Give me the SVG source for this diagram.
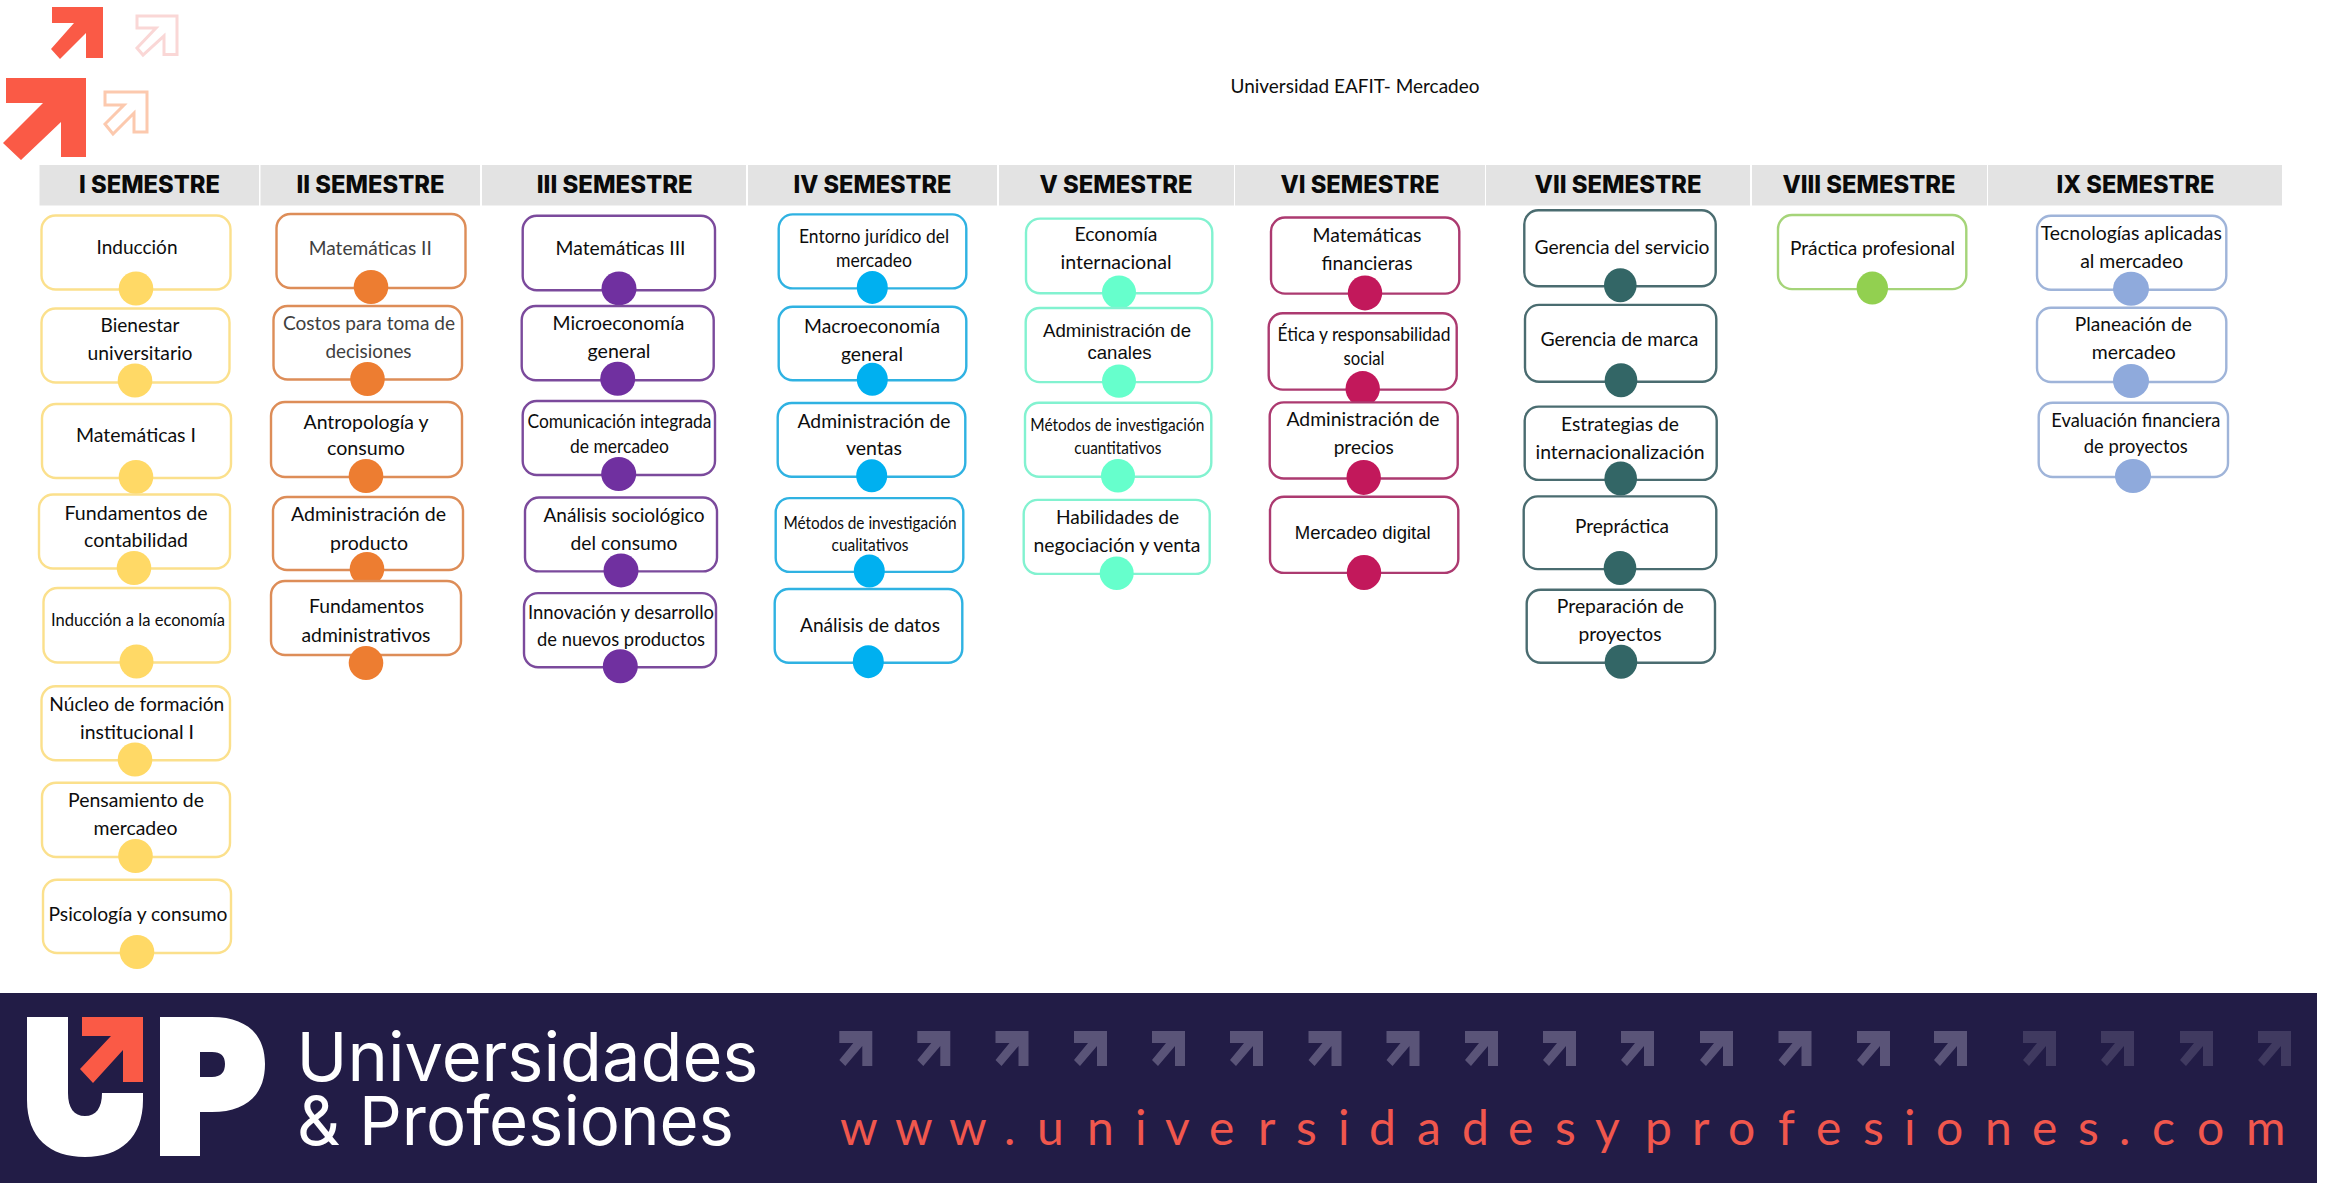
<svg xmlns="http://www.w3.org/2000/svg" width="2341" height="1201" viewBox="0 0 2341 1201">
<defs>
<style>
text{font-family:"Lato","Liberation Sans",sans-serif;fill:#0d0d0d;text-anchor:middle}
.s20{font-size:20px}.s18{font-size:18.5px}.s16{font-size:16.5px}
.ar{font-family:"Liberation Sans",Arial,sans-serif}
.soft{fill:#404040}
.hd rect{fill:#e3e3e3}
.hd text{font-family:"Inter","Liberation Sans",sans-serif;font-weight:800;font-size:24px;fill:#0a0a0a}
.n rect{fill:#fff;stroke-width:2.4}
.y rect{stroke:#fbe08c}.y ellipse{fill:#ffd966}
.o rect{stroke:#dd8d58}.o ellipse{fill:#ed7d31}
.p rect{stroke:#7b4a9c}.p ellipse{fill:#7030a0}
.b rect{stroke:#2fb2e2}.b ellipse{fill:#00b0f0}
.m rect{stroke:#82f2d0}.m ellipse{fill:#66ffcc}
.c rect{stroke:#ac3a70}.c ellipse{fill:#c2185b}
.t rect{stroke:#4a6c70}.t ellipse{fill:#336666}
.g rect{stroke:#a5d479}.g ellipse{fill:#92d050}
.w rect{stroke:#9fb4d9}.w ellipse{fill:#8faadc}
.brand{font-family:"Inter","Liberation Sans",sans-serif;font-weight:400;font-size:68px;fill:#fff;text-anchor:start}
.url{font-family:"Lato","Liberation Sans",sans-serif;font-size:48px;fill:#f0574d;text-anchor:start}
</style>
<polygon id="ba" points="0,0 33,0 33,35 23,35 23,15 6,35 0,29 14,12 0,12"/>
</defs>

<g id="top-arrows">
<polygon fill="#fa5a46" points="52,7 103,7 103,58 86,58 86,33 60,59 51,49 74,23 52,23"/>
<polygon fill="#fff" stroke="#fad7d6" stroke-width="3" points="137,16 177,16 177,54.5 164,54.5 164,36 143,55 137,48 156,28 137,28"/>
<polygon fill="#fa5a46" points="6,78 86,78 86,157 61,157 61,122 21,160 3,143 43,103 6,103"/>
<polygon fill="#fff" stroke="#fcc9ae" stroke-width="3" points="105,92 147,92 147,132 134,132 134,113 113,134 105,124 124,105 105,105"/>
</g>

<text id="title" class="s20" x="1355" y="93.3" textLength="249" lengthAdjust="spacingAndGlyphs">Universidad EAFIT- Mercadeo</text>

<g id="headers" class="hd">
<rect x="39.5" y="165" width="219.5" height="40.5"/><text x="149.5" y="193" textLength="141" lengthAdjust="spacingAndGlyphs">I SEMESTRE</text>
<rect x="260.5" y="165" width="219.5" height="40.5"/><text x="370.5" y="193" textLength="148" lengthAdjust="spacingAndGlyphs">II SEMESTRE</text>
<rect x="482" y="165" width="264" height="40.5"/><text x="614.7" y="193" textLength="156" lengthAdjust="spacingAndGlyphs">III SEMESTRE</text>
<rect x="748" y="165" width="249" height="40.5"/><text x="872.5" y="193" textLength="158" lengthAdjust="spacingAndGlyphs">IV SEMESTRE</text>
<rect x="999" y="165" width="235" height="40.5"/><text x="1116" y="193" textLength="153" lengthAdjust="spacingAndGlyphs">V SEMESTRE</text>
<rect x="1235" y="165" width="250" height="40.5"/><text x="1360" y="193" textLength="159" lengthAdjust="spacingAndGlyphs">VI SEMESTRE</text>
<rect x="1486" y="165" width="264" height="40.5"/><text x="1618" y="193" textLength="167" lengthAdjust="spacingAndGlyphs">VII SEMESTRE</text>
<rect x="1752" y="165" width="235" height="40.5"/><text x="1869" y="193" textLength="173" lengthAdjust="spacingAndGlyphs">VIII SEMESTRE</text>
<rect x="1988" y="165" width="294" height="40.5"/><text x="2135.5" y="193" textLength="158" lengthAdjust="spacingAndGlyphs">IX SEMESTRE</text>
</g>

<g id="connectors"></g>

<g id="nodes">
<g id="n1-1" class="n y"><rect x="41.5" y="215.5" width="189" height="74" rx="14"/><ellipse cx="136" cy="288.5" rx="17.3" ry="17"/><text class="s20" x="137" y="254" textLength="81" lengthAdjust="spacingAndGlyphs">Inducción</text></g>
<g id="n1-2" class="n y"><rect x="41.5" y="308.5" width="188" height="74" rx="14"/><ellipse cx="135" cy="380.5" rx="17.3" ry="17"/><text class="s20" x="140" y="332" textLength="79" lengthAdjust="spacingAndGlyphs">Bienestar</text><text class="s20" x="140" y="360" textLength="105" lengthAdjust="spacingAndGlyphs">universitario</text></g>
<g id="n1-3" class="n y"><rect x="42" y="404" width="189" height="74" rx="14"/><ellipse cx="136" cy="477" rx="17.3" ry="17"/><text class="s20" x="136" y="442" textLength="120" lengthAdjust="spacingAndGlyphs">Matemáticas I</text></g>
<g id="n1-4" class="n y"><rect x="39" y="494.5" width="191" height="74" rx="14"/><ellipse cx="134" cy="568" rx="17.3" ry="17"/><text class="s20" x="136" y="519.5" textLength="143" lengthAdjust="spacingAndGlyphs">Fundamentos de</text><text class="s20" x="136" y="547" textLength="104" lengthAdjust="spacingAndGlyphs">contabilidad</text></g>
<g id="n1-5" class="n y"><rect x="43.5" y="588" width="186.5" height="74.5" rx="14"/><ellipse cx="136.5" cy="661.5" rx="17" ry="17"/><text class="s16" x="138" y="626" textLength="174" lengthAdjust="spacingAndGlyphs">Inducción a la economía</text></g>
<g id="n1-6" class="n y"><rect x="41.5" y="686.3" width="188.5" height="74" rx="14"/><ellipse cx="135" cy="759.5" rx="17.3" ry="17"/><text class="s20" x="136.8" y="710.7" textLength="175" lengthAdjust="spacingAndGlyphs">Núcleo de formación</text><text class="s20" x="137" y="738.7" textLength="114" lengthAdjust="spacingAndGlyphs">institucional I</text></g>
<g id="n1-7" class="n y"><rect x="42" y="782.7" width="188" height="74.3" rx="14"/><ellipse cx="135.5" cy="856" rx="17.3" ry="17"/><text class="s20" x="136" y="806.7" textLength="136" lengthAdjust="spacingAndGlyphs">Pensamiento de</text><text class="s20" x="135.5" y="835" textLength="84" lengthAdjust="spacingAndGlyphs">mercadeo</text></g>
<g id="n1-8" class="n y"><rect x="43" y="879.7" width="188" height="73.3" rx="14"/><ellipse cx="137" cy="952" rx="17.3" ry="17"/><text class="s20" x="138" y="920.7" textLength="179" lengthAdjust="spacingAndGlyphs">Psicología y consumo</text></g>

<g id="n2-1" class="n o"><rect x="276.5" y="214" width="189" height="74" rx="14"/><ellipse cx="371" cy="287" rx="17.3" ry="17"/><text class="s20 soft" x="370.3" y="255" textLength="123" lengthAdjust="spacingAndGlyphs">Matemáticas II</text></g>
<g id="n2-2" class="n o"><rect x="273.5" y="306" width="188.5" height="73.5" rx="14"/><ellipse cx="367.5" cy="379" rx="17.3" ry="17"/><text class="s20 soft" x="369" y="330" textLength="172" lengthAdjust="spacingAndGlyphs">Costos para toma de</text><text class="s20 soft" x="368.5" y="358" textLength="86" lengthAdjust="spacingAndGlyphs">decisiones</text></g>
<g id="n2-3" class="n o"><rect x="271" y="402" width="191" height="75" rx="14"/><ellipse cx="366" cy="476" rx="17.3" ry="17"/><text class="s20" x="366" y="428.5" textLength="125" lengthAdjust="spacingAndGlyphs">Antropología y</text><text class="s20" x="366" y="455" textLength="78" lengthAdjust="spacingAndGlyphs">consumo</text></g>
<g id="n2-4" class="n o"><rect x="273" y="497" width="190" height="73" rx="14"/><ellipse cx="367" cy="569" rx="17.3" ry="17"/><text class="s20" x="368.5" y="521" textLength="155" lengthAdjust="spacingAndGlyphs">Administración de</text><text class="s20" x="369" y="549.5" textLength="78" lengthAdjust="spacingAndGlyphs">producto</text></g>
<g id="n2-5" class="n o"><rect x="271" y="581" width="190" height="74" rx="14"/><ellipse cx="366" cy="663" rx="17.3" ry="17"/><text class="s20" x="366.5" y="613" textLength="115" lengthAdjust="spacingAndGlyphs">Fundamentos</text><text class="s20" x="366" y="641.7" textLength="129" lengthAdjust="spacingAndGlyphs">administrativos</text></g>

<g id="n3-1" class="n p"><rect x="522.7" y="215.8" width="192.3" height="74.4" rx="14"/><ellipse cx="619" cy="288.4" rx="17.5" ry="17"/><text class="s20" x="620.5" y="254.7" textLength="130" lengthAdjust="spacingAndGlyphs">Matemáticas III</text></g>
<g id="n3-2" class="n p"><rect x="521.7" y="306" width="192" height="74.3" rx="14"/><ellipse cx="617.7" cy="378.7" rx="17.5" ry="17"/><text class="s20" x="618.5" y="329.7" textLength="132" lengthAdjust="spacingAndGlyphs">Microeconomía</text><text class="s20" x="619" y="358" textLength="63" lengthAdjust="spacingAndGlyphs">general</text></g>
<g id="n3-3" class="n p"><rect x="522.7" y="401" width="192.3" height="74" rx="14"/><ellipse cx="618.7" cy="474" rx="17.5" ry="17"/><text class="s18" x="619.5" y="427.9" textLength="184" lengthAdjust="spacingAndGlyphs">Comunicación integrada</text><text class="s18" x="619.5" y="453.4" textLength="99" lengthAdjust="spacingAndGlyphs">de mercadeo</text></g>
<g id="n3-4" class="n p"><rect x="525" y="497.5" width="192" height="73.9" rx="14"/><ellipse cx="621" cy="570.4" rx="17.5" ry="17"/><text class="s20" x="624" y="522.3" textLength="161" lengthAdjust="spacingAndGlyphs">Análisis sociológico</text><text class="s20" x="624" y="550.2" textLength="107" lengthAdjust="spacingAndGlyphs">del consumo</text></g>
<g id="n3-5" class="n p"><rect x="524" y="593.1" width="192" height="74.1" rx="14"/><ellipse cx="620.3" cy="666.2" rx="17.5" ry="17"/><text class="s20" x="621" y="619" textLength="186" lengthAdjust="spacingAndGlyphs">Innovación y desarrollo</text><text class="s20" x="621" y="646.2" textLength="168" lengthAdjust="spacingAndGlyphs">de nuevos productos</text></g>

<g id="n4-1" class="n b"><rect x="778.7" y="214.4" width="187.6" height="74" rx="14"/><ellipse cx="872.3" cy="287.4" rx="15.5" ry="16.5"/><text class="s18" x="874" y="242.6" textLength="150" lengthAdjust="spacingAndGlyphs">Entorno jurídico del</text><text class="s18" x="874" y="267.1" textLength="76" lengthAdjust="spacingAndGlyphs">mercadeo</text></g>
<g id="n4-2" class="n b"><rect x="778.7" y="306.7" width="187.6" height="73.6" rx="14"/><ellipse cx="872.3" cy="379.3" rx="15.5" ry="16.5"/><text class="s20" x="872" y="332.8" textLength="136" lengthAdjust="spacingAndGlyphs">Macroeconomía</text><text class="s20" x="872" y="361.1" textLength="62" lengthAdjust="spacingAndGlyphs">general</text></g>
<g id="n4-3" class="n b"><rect x="777.7" y="403" width="187.6" height="73.8" rx="14"/><ellipse cx="871.7" cy="475.8" rx="15.5" ry="16.5"/><text class="s20" x="874" y="427.9" textLength="153" lengthAdjust="spacingAndGlyphs">Administración de</text><text class="s20" x="874" y="455.4" textLength="56" lengthAdjust="spacingAndGlyphs">ventas</text></g>
<g id="n4-4" class="n b"><rect x="775.7" y="498.1" width="187.6" height="73.8" rx="14"/><ellipse cx="869.3" cy="571.1" rx="15.5" ry="16.5"/><text class="s16" x="870" y="529.1" textLength="173" lengthAdjust="spacingAndGlyphs">Métodos de investigación</text><text class="s16" x="870" y="550.8" textLength="77" lengthAdjust="spacingAndGlyphs">cualitativos</text></g>
<g id="n4-5" class="n b"><rect x="774.7" y="589" width="187.6" height="73.8" rx="14"/><ellipse cx="868.3" cy="661.7" rx="15.5" ry="16.5"/><text class="s20" x="870" y="631.8" textLength="140" lengthAdjust="spacingAndGlyphs">Análisis de datos</text></g>

<g id="n5-1" class="n m"><rect x="1026" y="218.6" width="186.3" height="74.7" rx="14"/><ellipse cx="1119" cy="292.2" rx="17" ry="16.7"/><text class="s20" x="1116" y="240.9" textLength="83" lengthAdjust="spacingAndGlyphs">Economía</text><text class="s20" x="1116" y="268.8" textLength="111" lengthAdjust="spacingAndGlyphs">internacional</text></g>
<g id="n5-2" class="n m"><rect x="1025.7" y="308" width="186.3" height="74.1" rx="14"/><ellipse cx="1119" cy="381.1" rx="17" ry="16.7"/><text class="s18 ar" x="1117" y="337.4" textLength="148" lengthAdjust="spacingAndGlyphs">Administración de</text><text class="s18 ar" x="1119.5" y="359" textLength="64" lengthAdjust="spacingAndGlyphs">canales</text></g>
<g id="n5-3" class="n m"><rect x="1025" y="402.8" width="186.3" height="74" rx="14"/><ellipse cx="1118" cy="475.8" rx="17" ry="16.7"/><text class="s16" x="1117.3" y="431.4" textLength="174" lengthAdjust="spacingAndGlyphs">Métodos de investigación</text><text class="s16" x="1117.8" y="454.4" textLength="87" lengthAdjust="spacingAndGlyphs">cuantitativos</text></g>
<g id="n5-4" class="n m"><rect x="1023.7" y="499.9" width="186" height="74" rx="14"/><ellipse cx="1116.7" cy="573.2" rx="17" ry="16.7"/><text class="s20" x="1117.5" y="524.4" textLength="123" lengthAdjust="spacingAndGlyphs">Habilidades de</text><text class="s20" x="1117" y="551.8" textLength="167" lengthAdjust="spacingAndGlyphs">negociación y venta</text></g>

<g id="n6-1" class="n c"><rect x="1271" y="217.5" width="188.3" height="76.1" rx="14"/><ellipse cx="1365" cy="292.9" rx="17.2" ry="17.5"/><text class="s20" x="1367" y="242.3" textLength="109" lengthAdjust="spacingAndGlyphs">Matemáticas</text><text class="s20" x="1367" y="269.8" textLength="91" lengthAdjust="spacingAndGlyphs">financieras</text></g>
<g id="n6-2" class="n c"><rect x="1268.7" y="313.2" width="188" height="76.4" rx="14"/><ellipse cx="1362.7" cy="388.6" rx="17.2" ry="17.5"/><text class="s18" x="1364" y="340.5" textLength="173" lengthAdjust="spacingAndGlyphs">Ética y responsabilidad</text><text class="s18" x="1364" y="365.3" textLength="41" lengthAdjust="spacingAndGlyphs">social</text></g>
<g id="n6-3" class="n c"><rect x="1269.7" y="402.4" width="188" height="76.1" rx="14"/><ellipse cx="1363.7" cy="477.4" rx="17.2" ry="17.5"/><text class="s20" x="1363" y="425.8" textLength="153" lengthAdjust="spacingAndGlyphs">Administración de</text><text class="s20" x="1363.7" y="453.7" textLength="60" lengthAdjust="spacingAndGlyphs">precios</text></g>
<g id="n6-4" class="n c"><rect x="1270" y="496.8" width="188.3" height="76.1" rx="14"/><ellipse cx="1364" cy="572.5" rx="17.2" ry="17.5"/><text class="s18 ar" x="1362.7" y="538.8" textLength="136" lengthAdjust="spacingAndGlyphs">Mercadeo digital</text></g>

<g id="n7-1" class="n t"><rect x="1524.3" y="210.3" width="191.4" height="76" rx="14"/><ellipse cx="1620.3" cy="285.3" rx="16.3" ry="17"/><text class="s20" x="1622" y="253.7" textLength="175" lengthAdjust="spacingAndGlyphs">Gerencia del servicio</text></g>
<g id="n7-2" class="n t"><rect x="1525" y="304.9" width="191.3" height="76.9" rx="14"/><ellipse cx="1621" cy="380.3" rx="16.3" ry="17"/><text class="s20" x="1619.5" y="345.9" textLength="158" lengthAdjust="spacingAndGlyphs">Gerencia de marca</text></g>
<g id="n7-3" class="n t"><rect x="1524.7" y="406.6" width="192" height="73.3" rx="14"/><ellipse cx="1620.7" cy="478.5" rx="16.3" ry="17"/><text class="s20" x="1620" y="431" textLength="118" lengthAdjust="spacingAndGlyphs">Estrategias de</text><text class="s20" x="1620" y="458.5" textLength="169" lengthAdjust="spacingAndGlyphs">internacionalización</text></g>
<g id="n7-4" class="n t"><rect x="1523.7" y="496.4" width="192.6" height="72.7" rx="14"/><ellipse cx="1620" cy="568" rx="16.3" ry="17"/><text class="s20" x="1622" y="532.9" textLength="94" lengthAdjust="spacingAndGlyphs">Prepráctica</text></g>
<g id="n7-5" class="n t"><rect x="1526.7" y="589.7" width="188.3" height="73.1" rx="14"/><ellipse cx="1621" cy="661.7" rx="16.3" ry="17"/><text class="s20" x="1620.3" y="612.8" textLength="127" lengthAdjust="spacingAndGlyphs">Preparación de</text><text class="s20" x="1620" y="640.7" textLength="83" lengthAdjust="spacingAndGlyphs">proyectos</text></g>

<g id="n8-1" class="n g"><rect x="1778" y="215" width="188.3" height="74.1" rx="14"/><ellipse cx="1872.3" cy="288.1" rx="15.7" ry="16.5"/><text class="s20" x="1872.5" y="254.7" textLength="165" lengthAdjust="spacingAndGlyphs">Práctica profesional</text></g>

<g id="n9-1" class="n w"><rect x="2037" y="215.7" width="189.3" height="74" rx="14"/><ellipse cx="2131" cy="288.7" rx="18" ry="17"/><text class="s20" x="2131.3" y="240" textLength="181" lengthAdjust="spacingAndGlyphs">Tecnologías aplicadas</text><text class="s20" x="2131.7" y="267.7" textLength="103" lengthAdjust="spacingAndGlyphs">al mercadeo</text></g>
<g id="n9-2" class="n w"><rect x="2037" y="307.7" width="189.3" height="74.3" rx="14"/><ellipse cx="2131" cy="381" rx="18" ry="17"/><text class="s20" x="2133.3" y="331" textLength="117" lengthAdjust="spacingAndGlyphs">Planeación de</text><text class="s20" x="2133.8" y="359" textLength="84" lengthAdjust="spacingAndGlyphs">mercadeo</text></g>
<g id="n9-3" class="n w"><rect x="2038.7" y="402.7" width="189.3" height="74.3" rx="14"/><ellipse cx="2133" cy="476" rx="18" ry="17"/><text class="s20" x="2135.8" y="426.7" textLength="169" lengthAdjust="spacingAndGlyphs">Evaluación financiera</text><text class="s20" x="2135.8" y="453.3" textLength="104" lengthAdjust="spacingAndGlyphs">de proyectos</text></g>
</g>

<g id="banner">
<rect x="0" y="993" width="2317" height="190" fill="#221c46"/>
<path fill="#fff" d="M27 1017H68V1093C68 1108 74 1116 85 1116C96 1116 102 1108 102 1093H143V1100C143 1138 120 1157 85 1157C50 1157 27 1138 27 1100Z"/>
<polygon fill="#fa5a46" points="82,1017 143,1017 143,1082 123,1082 123,1050 93,1083 80,1069 111,1036 82,1036"/>
<path fill="#fff" fill-rule="evenodd" d="M160 1017H212C246 1017 265 1034 265 1064C265 1095 246 1112 212 1112H200V1156H160ZM200 1052V1077H212C221 1077 225 1072 225 1064C225 1056 221 1052 212 1052Z"/>
<text class="brand" x="296.5" y="1081" textLength="462" lengthAdjust="spacingAndGlyphs">Universidades</text>
<text class="brand" x="297" y="1145" textLength="437" lengthAdjust="spacingAndGlyphs">&amp; Profesiones</text>
<g fill="#5a5478">
<use href="#ba" x="839.3" y="1031"/><use href="#ba" x="917.3" y="1031"/><use href="#ba" x="995.5" y="1031"/><use href="#ba" x="1074" y="1031"/><use href="#ba" x="1152" y="1031"/><use href="#ba" x="1230" y="1031"/><use href="#ba" x="1308.5" y="1031"/><use href="#ba" x="1386.5" y="1031"/><use href="#ba" x="1465" y="1031"/><use href="#ba" x="1543" y="1031"/><use href="#ba" x="1621" y="1031"/><use href="#ba" x="1700" y="1031"/><use href="#ba" x="1778.5" y="1031"/><use href="#ba" x="1857" y="1031"/><use href="#ba" x="1934" y="1031"/>
</g>
<g fill="#403a60">
<use href="#ba" x="2023" y="1031"/><use href="#ba" x="2101" y="1031"/><use href="#ba" x="2180" y="1031"/><use href="#ba" x="2258" y="1031"/>
</g>
<text class="url" y="1145" x="840 895 949 1004 1037 1087 1135 1165 1209 1258 1296 1338 1369 1417 1462 1508 1555 1595 1645 1692 1728 1778 1816 1863 1904 1936 1985 2032 2078 2119 2152 2197 2246">www.universidadesyprofesiones.com</text>
</g>
</svg>
